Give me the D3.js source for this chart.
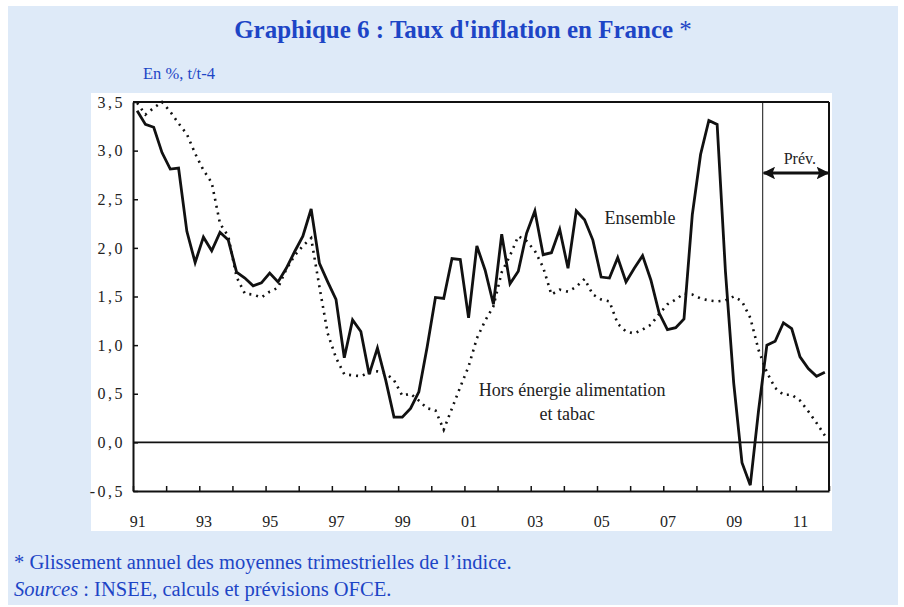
<!DOCTYPE html>
<html>
<head>
<meta charset="utf-8">
<script src="https://cdn.jsdelivr.net/npm/d3@7/dist/d3.min.js"></script>
<style>
  body { margin: 0; background: #fff; }
  text { font-family: "Liberation Serif", "DejaVu Serif", serif; }
</style>
</head>
<body>
<script>
// quarterly data, 1991Q1 .. 2011Q4 (t/t-4, en %)
var firstYear = 1991, lastYear = 2011;
var ensemble = [
  3.41, 3.27, 3.24, 2.98,   // 91
  2.81, 2.82, 2.17, 1.85,   // 92
  2.11, 1.97, 2.16, 2.08,   // 93
  1.75, 1.69, 1.61, 1.64,   // 94
  1.74, 1.65, 1.79, 1.96,   // 95
  2.12, 2.40, 1.84, 1.65,   // 96
  1.47, 0.87, 1.26, 1.14,   // 97
  0.70, 0.97, 0.64, 0.26,   // 98
  0.26, 0.35, 0.52, 0.98,   // 99
  1.49, 1.48, 1.89, 1.88,   // 00
  1.28, 2.02, 1.77, 1.42,   // 01
  2.14, 1.63, 1.76, 2.15,   // 02
  2.38, 1.93, 1.95, 2.19,   // 03
  1.79, 2.38, 2.29, 2.08,   // 04
  1.70, 1.69, 1.90, 1.65,   // 05
  1.79, 1.92, 1.67, 1.33,   // 06
  1.16, 1.18, 1.27, 2.34,   // 07
  2.96, 3.31, 3.27, 1.76,   // 08
  0.61, -0.21, -0.44, 0.33, // 09
  1.00, 1.04, 1.23, 1.17,   // 10
  0.88, 0.76, 0.68, 0.72    // 11
];
var horsEnergie = [
  3.49, 3.37, 3.44, 3.50,
  3.40, 3.28, 3.17, 2.97,
  2.80, 2.67, 2.25, 2.12,
  1.70, 1.53, 1.52, 1.49,
  1.55, 1.59, 1.78, 1.92,
  2.02, 2.10, 1.60, 1.12,
  0.87, 0.70, 0.69, 0.68,
  0.72, 0.73, 0.71, 0.64,
  0.48, 0.50, 0.43, 0.35,
  0.33, 0.13, 0.35, 0.57,
  0.78, 1.07, 1.25, 1.40,
  1.75, 1.92, 2.12, 2.07,
  1.97, 1.80, 1.52, 1.57,
  1.55, 1.60, 1.68, 1.52,
  1.47, 1.45, 1.22, 1.14,
  1.12, 1.16, 1.21, 1.32,
  1.42, 1.47, 1.53, 1.52,
  1.48, 1.46, 1.45, 1.46,
  1.50, 1.45, 1.28, 0.95,
  0.72, 0.56, 0.49, 0.49,
  0.43, 0.32, 0.20, 0.07
];
var yTicks = [-0.5, 0, 0.5, 1, 1.5, 2, 2.5, 3, 3.5];
var prevStart = 2010;

var W = 904, H = 607;
var margin = { top: 102, right: 75, bottom: 116, left: 133 },
  width = W - margin.left - margin.right,
  height = H - margin.top - margin.bottom;

var blue = "#1d45c6";

var svg = d3.select("body").append("svg")
  .attr("width", W)
  .attr("height", H);

// background panels
svg.append("rect").attr("x", 8).attr("y", 6).attr("width", 890).attr("height", 599)
  .attr("fill", "#deeaf8");
svg.append("rect").attr("x", 91).attr("y", 93).attr("width", 741).attr("height", 438)
  .attr("fill", "#fff");

// titles
svg.append("text")
  .attr("x", 463).attr("y", 38)
  .attr("text-anchor", "middle")
  .attr("fill", blue)
  .style("font-size", "25px")
  .style("font-weight", "bold")
  .text("Graphique 6 : Taux d'inflation en France ")
  .append("tspan").style("font-weight", "normal").text("*");

svg.append("text")
  .attr("x", 143).attr("y", 79)
  .attr("fill", blue)
  .style("font-size", "16.5px")
  .text("En %, t/t-4");

svg.append("text")
  .attr("x", 14).attr("y", 569)
  .attr("fill", blue)
  .style("font-size", "20.5px")
  .text("* Glissement annuel des moyennes trimestrielles de l\u2019indice.");

var foot2 = svg.append("text")
  .attr("x", 14).attr("y", 596)
  .attr("fill", blue)
  .style("font-size", "20.5px");
foot2.append("tspan").style("font-style", "italic").text("Sources");
foot2.append("tspan").text(" : INSEE, calculs et pr\u00e9visions OFCE.");

var g = svg.append("g")
  .attr("transform", `translate(${margin.left},${margin.top})`);

var x = d3.scaleLinear()
  .domain([firstYear, lastYear + 1])
  .range([0, width]);

var y = d3.scaleLinear()
  .domain([-0.5, 3.5])
  .range([height, 0]);

function qTime(i) {
  return firstYear + (i + 0.5) / 4;
}

// zero line
g.append("line")
  .attr("x1", 0).attr("x2", width)
  .attr("y1", y(0)).attr("y2", y(0))
  .attr("stroke", "#111").attr("stroke-width", 1.6);

// forecast separator
g.append("line")
  .attr("x1", x(prevStart)).attr("x2", x(prevStart))
  .attr("y1", 0).attr("y2", height)
  .attr("stroke", "#111").attr("stroke-width", 1);

var line = d3.line()
  .x(function (d, i) { return x(qTime(i)); })
  .y(function (d) { return y(d); });

g.append("path")
  .datum(horsEnergie)
  .attr("d", line)
  .attr("fill", "none")
  .attr("stroke", "#111")
  .attr("stroke-width", 2.6)
  .attr("stroke-dasharray", "2,5");

g.append("path")
  .datum(ensemble)
  .attr("d", line)
  .attr("fill", "none")
  .attr("stroke", "#111")
  .attr("stroke-width", 2.8)
  .attr("stroke-linejoin", "miter");

// axes
var yAxis = d3.axisLeft(y)
  .tickValues(yTicks)
  .tickSizeInner(-5)
  .tickSizeOuter(0)
  .tickPadding(8)
  .tickFormat(function (d) { return d3.format(".1f")(d).replace(".", ",").replace("\u2212", "-"); });

var gy = g.append("g").call(yAxis);
gy.selectAll("text").style("font-size", "16px").attr("fill", "#222")
  .style("letter-spacing", "2.5px");
gy.selectAll("line").attr("stroke", "#111").attr("stroke-width", 1.5);
gy.select(".domain").attr("stroke", "#111").attr("stroke-width", 2);

var xAxis = d3.axisBottom(x)
  .tickValues(d3.range(firstYear, lastYear + 2))
  .tickSizeInner(-5)
  .tickSizeOuter(0)
  .tickPadding(25)
  .tickFormat(function (d) {
    return (d % 2 === 1 && d <= lastYear) ? String(d).slice(2) : "";
  });

var gx = g.append("g").attr("transform", `translate(0,${height})`).call(xAxis);
var labelShift = x(firstYear + 0.125) - x(firstYear);
gx.selectAll("text").style("font-size", "16px").attr("fill", "#222")
  .attr("x", labelShift);
gx.selectAll("line").attr("stroke", "#111").attr("stroke-width", 1.5);
gx.select(".domain").attr("stroke", "#111").attr("stroke-width", 2);

// frame top and right
g.append("line").attr("x1", 0).attr("x2", width).attr("y1", 0).attr("y2", 0)
  .attr("stroke", "#111").attr("stroke-width", 2);
g.append("line").attr("x1", width).attr("x2", width).attr("y1", 0).attr("y2", height)
  .attr("stroke", "#111").attr("stroke-width", 2);

// "Prév." arrow
var defs = svg.append("defs");
defs.append("marker")
  .attr("id", "arrowHead")
  .attr("viewBox", "0 0 10 10")
  .attr("refX", 9).attr("refY", 5)
  .attr("markerWidth", 4.2).attr("markerHeight", 4.2)
  .attr("orient", "auto-start-reverse")
  .append("path")
  .attr("d", "M0,0 L10,5 L0,10 L2,5 Z")
  .attr("fill", "#111");

var arrowY = 71;
g.append("line")
  .attr("x1", x(prevStart) + 1).attr("x2", width - 1)
  .attr("y1", arrowY).attr("y2", arrowY)
  .attr("stroke", "#111").attr("stroke-width", 3)
  .attr("marker-start", "url(#arrowHead)")
  .attr("marker-end", "url(#arrowHead)");

g.append("text")
  .attr("x", (x(prevStart) + width) / 2 + 4).attr("y", arrowY - 9)
  .attr("text-anchor", "middle")
  .attr("fill", "#222")
  .style("font-size", "16px")
  .text("Pr\u00e9v.");

// series labels
g.append("text")
  .attr("x", x(2006.3)).attr("y", y(2.25))
  .attr("text-anchor", "middle")
  .attr("fill", "#222")
  .style("font-size", "18px")
  .text("Ensemble");

var lab = g.append("text")
  .attr("text-anchor", "middle")
  .attr("fill", "#222")
  .style("font-size", "18px");
lab.append("tspan").attr("x", x(2004.25)).attr("y", y(0.5) + 2).text("Hors \u00e9nergie alimentation");
lab.append("tspan").attr("x", x(2004.1)).attr("y", y(0.5) + 26).text("et tabac");
</script>
</body>
</html>
